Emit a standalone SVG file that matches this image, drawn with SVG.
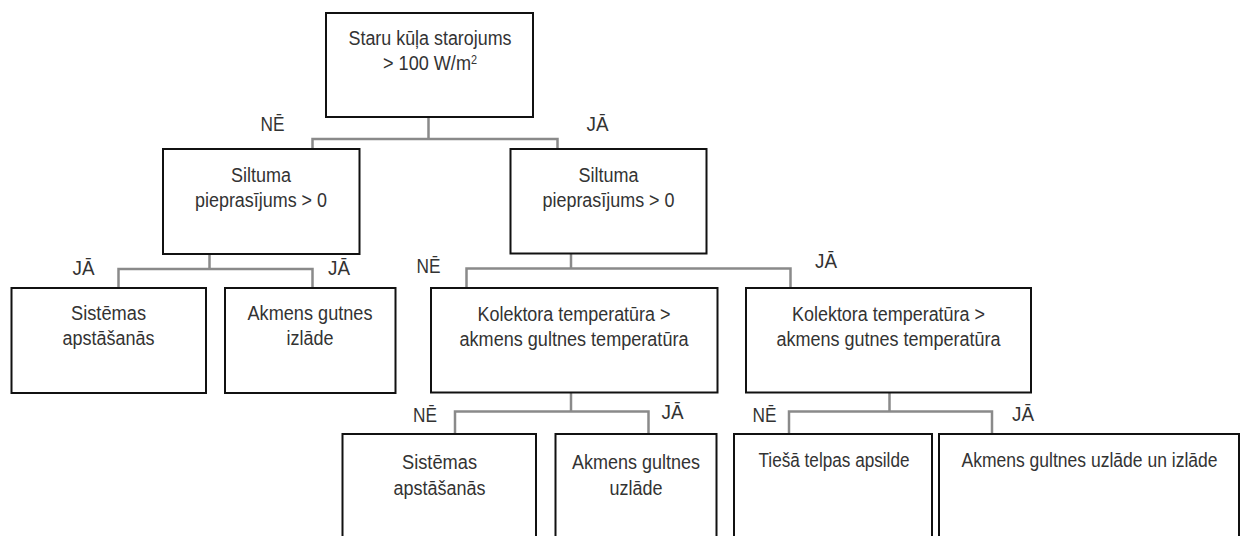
<svg xmlns="http://www.w3.org/2000/svg" width="1257" height="536" viewBox="0 0 1257 536">
  <style>
    .box { fill: #ffffff; stroke: #111111; stroke-width: 2; }
    .link { fill: none; stroke: #8a8a8a; stroke-width: 2.5; }
    .t { font-family: "Liberation Sans", Arial, sans-serif; font-size: 20px; fill: #333333; text-anchor: middle; }
    .lbl { font-family: "Liberation Sans", Arial, sans-serif; font-size: 20px; fill: #333333; }
  </style>
  <rect width="1257" height="536" fill="#ffffff"/>

  <!-- connectors -->
  <g id="connectors">
    <path class="link" d="M428.5 117 V139 M312.5 149 V139 H557.5 V149"/>
    <path class="link" d="M209.5 254 V269 M118.5 288 V269 H312.5 V288"/>
    <path class="link" d="M571 253.5 V268.5 M466.5 288 V268.5 H790.5 V288"/>
    <path class="link" d="M571 392.5 V411.5 M455 434 V411.5 H648.5 V434"/>
    <path class="link" d="M889.5 392.5 V411.5 M789 434 V411.5 H992 V434"/>
  </g>

  <!-- branch labels -->
  <g id="labels">
    <text class="lbl" x="260.5" y="131" textLength="24" lengthAdjust="spacingAndGlyphs">NĒ</text>
    <text class="lbl" x="586.5" y="131" textLength="22" lengthAdjust="spacingAndGlyphs">JĀ</text>
    <text class="lbl" x="72.5" y="275" textLength="22" lengthAdjust="spacingAndGlyphs">JĀ</text>
    <text class="lbl" x="328" y="275" textLength="22" lengthAdjust="spacingAndGlyphs">JĀ</text>
    <text class="lbl" x="416.5" y="273" textLength="24" lengthAdjust="spacingAndGlyphs">NĒ</text>
    <text class="lbl" x="815" y="268" textLength="22" lengthAdjust="spacingAndGlyphs">JĀ</text>
    <text class="lbl" x="413" y="422" textLength="24" lengthAdjust="spacingAndGlyphs">NĒ</text>
    <text class="lbl" x="661.5" y="419" textLength="22" lengthAdjust="spacingAndGlyphs">JĀ</text>
    <text class="lbl" x="752.5" y="422" textLength="24" lengthAdjust="spacingAndGlyphs">NĒ</text>
    <text class="lbl" x="1012" y="421" textLength="22" lengthAdjust="spacingAndGlyphs">JĀ</text>
  </g>

  <!-- root decision -->
  <g id="n-root">
    <rect class="box" x="326" y="13" width="207" height="104"/>
    <text class="t" x="430" y="45" textLength="163" lengthAdjust="spacingAndGlyphs">Staru kūļa starojums</text>
    <text class="t" x="430" y="70" textLength="94" lengthAdjust="spacingAndGlyphs">&gt; 100 W/m<tspan font-size="12" dy="-6">2</tspan></text>
  </g>

  <!-- heat demand, left branch -->
  <g id="n-demand-no">
    <rect class="box" x="163" y="149" width="196.5" height="105"/>
    <text class="t" x="261" y="182" textLength="60" lengthAdjust="spacingAndGlyphs">Siltuma</text>
    <text class="t" x="261" y="207" textLength="132" lengthAdjust="spacingAndGlyphs">pieprasījums &gt; 0</text>
  </g>

  <!-- heat demand, right branch -->
  <g id="n-demand-yes">
    <rect class="box" x="510.5" y="149" width="196" height="104.5"/>
    <text class="t" x="608.5" y="182" textLength="60" lengthAdjust="spacingAndGlyphs">Siltuma</text>
    <text class="t" x="608.5" y="207" textLength="132" lengthAdjust="spacingAndGlyphs">pieprasījums &gt; 0</text>
  </g>

  <g id="n-stop-1">
    <rect class="box" x="11.5" y="288" width="194.5" height="105"/>
    <text class="t" x="108.5" y="320" textLength="75" lengthAdjust="spacingAndGlyphs">Sistēmas</text>
    <text class="t" x="108.5" y="345" textLength="92" lengthAdjust="spacingAndGlyphs">apstāšanās</text>
  </g>

  <g id="n-discharge">
    <rect class="box" x="225" y="288" width="170.5" height="105"/>
    <text class="t" x="310" y="320" textLength="125" lengthAdjust="spacingAndGlyphs">Akmens gutnes</text>
    <text class="t" x="310" y="345" textLength="47" lengthAdjust="spacingAndGlyphs">izlāde</text>
  </g>

  <g id="n-collector-1">
    <rect class="box" x="431" y="288" width="286.5" height="104.5"/>
    <text class="t" x="574" y="321" textLength="193" lengthAdjust="spacingAndGlyphs">Kolektora temperatūra &gt;</text>
    <text class="t" x="574" y="346" textLength="229" lengthAdjust="spacingAndGlyphs">akmens gultnes temperatūra</text>
  </g>

  <g id="n-collector-2">
    <rect class="box" x="746" y="288" width="285" height="104.5"/>
    <text class="t" x="888.5" y="321" textLength="193" lengthAdjust="spacingAndGlyphs">Kolektora temperatūra &gt;</text>
    <text class="t" x="888.5" y="346" textLength="224" lengthAdjust="spacingAndGlyphs">akmens gutnes temperatūra</text>
  </g>

  <g id="n-stop-2">
    <rect class="box" x="342.5" y="434" width="193.5" height="120"/>
    <text class="t" x="439.5" y="469" textLength="75" lengthAdjust="spacingAndGlyphs">Sistēmas</text>
    <text class="t" x="439.5" y="495" textLength="92" lengthAdjust="spacingAndGlyphs">apstāšanās</text>
  </g>

  <g id="n-charge">
    <rect class="box" x="555.5" y="434" width="161" height="120"/>
    <text class="t" x="636" y="469" textLength="128" lengthAdjust="spacingAndGlyphs">Akmens gultnes</text>
    <text class="t" x="636" y="495" textLength="53" lengthAdjust="spacingAndGlyphs">uzlāde</text>
  </g>

  <g id="n-direct">
    <rect class="box" x="734" y="434" width="198" height="120"/>
    <text class="t" x="834" y="467" textLength="151" lengthAdjust="spacingAndGlyphs">Tiešā telpas apsilde</text>
  </g>

  <g id="n-charge-discharge">
    <rect class="box" x="939" y="434" width="300" height="120"/>
    <text class="t" x="1089.5" y="467" textLength="256" lengthAdjust="spacingAndGlyphs">Akmens gultnes uzlāde un izlāde</text>
  </g>
</svg>
